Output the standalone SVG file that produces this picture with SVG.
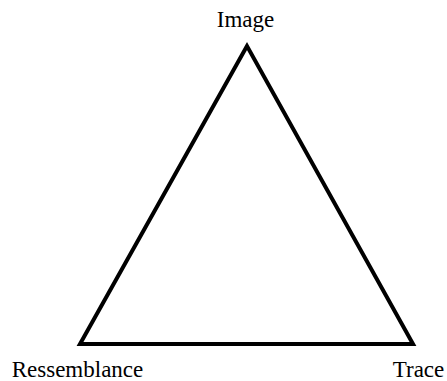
<svg xmlns="http://www.w3.org/2000/svg" width="447" height="381" viewBox="0 0 447 381">
<style>
text{font-family:"Liberation Serif","Times New Roman",serif;font-size:23px;fill:#000}
.edge{fill:none;stroke:#000;stroke-width:4;stroke-linejoin:miter}
</style>
<rect width="447" height="381" fill="#fff"/>
<g id="connectors">
<polygon class="edge" points="247,46 80,344 413,344"/>
</g>
<g id="node-image"><text x="245.5" y="27" text-anchor="middle">Image</text></g>
<g id="node-ressemblance"><text x="77.5" y="377" text-anchor="middle">Ressemblance</text></g>
<g id="node-trace"><text x="418.5" y="377" text-anchor="middle">Trace</text></g>
</svg>
